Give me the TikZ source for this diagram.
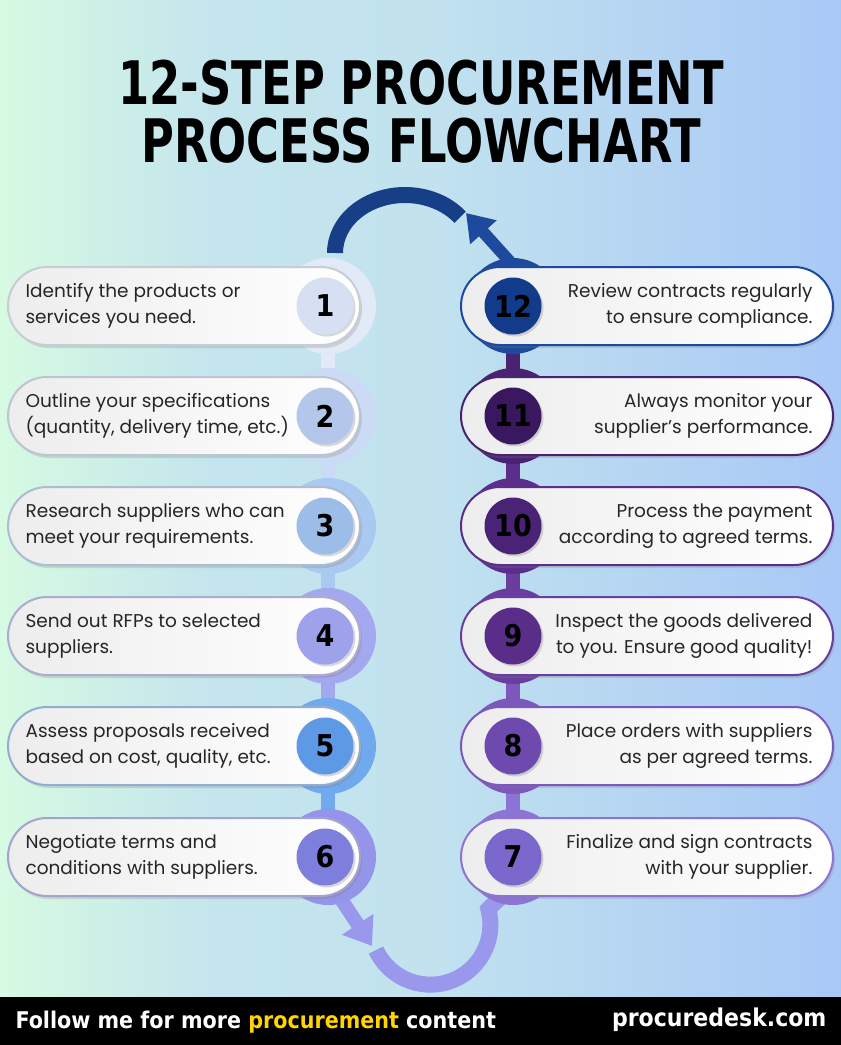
\documentclass[tikz,border=0pt]{standalone}
\usepackage{fontspec}
\setmainfont{Poppins}
\newfontfamily\numfont{DejaVu Sans Condensed}
\usetikzlibrary{arrows.meta,shadows}
\definecolor{bgL}{HTML}{D6FAE2}\definecolor{bgM}{HTML}{C2E3EE}\definecolor{bgR}{HTML}{A9C8F6}
\definecolor{lA}{HTML}{E2EAF8}\definecolor{lB}{HTML}{CCDBF5}\definecolor{lC}{HTML}{A9C9F0}
\definecolor{lD}{HTML}{A4A8EE}\definecolor{lE}{HTML}{71A9EE}\definecolor{lF}{HTML}{9494EA}
\definecolor{cA}{HTML}{D6E0F2}\definecolor{cB}{HTML}{B4C7EA}\definecolor{cC}{HTML}{9BBDE8}
\definecolor{cD}{HTML}{9EA2EA}\definecolor{cE}{HTML}{5E99E6}\definecolor{cF}{HTML}{7E7EDC}
\definecolor{rL}{HTML}{1E4A9E}\definecolor{rK}{HTML}{4A2272}\definecolor{rJ}{HTML}{5B2E8C}
\definecolor{rI}{HTML}{6A3E9E}\definecolor{rH}{HTML}{7C58BC}\definecolor{rG}{HTML}{8C74D4}
\definecolor{dL}{HTML}{133B8C}\definecolor{dK}{HTML}{3A1860}\definecolor{dJ}{HTML}{4A2276}
\definecolor{dI}{HTML}{5A2E88}\definecolor{dH}{HTML}{6E4AAE}\definecolor{dG}{HTML}{7B68CC}
\definecolor{arcT}{HTML}{173F88}\definecolor{arcB}{HTML}{9A98EC}\definecolor{yel}{HTML}{FFD400}
\tikzset{
 ring/.style={circle,minimum size=96pt,inner sep=0pt},
 pill/.style={rectangle,rounded corners=39pt,minimum height=78pt,line width=2pt,
   left color=gray!14,right color=white,drop shadow={shadow xshift=2pt,shadow yshift=-3pt,opacity=0.25}},
 num/.style={circle,minimum size=57pt,inner sep=0pt,font=\numfont\bfseries\fontsize{30}{30}\selectfont,
   drop shadow={shadow xshift=2pt,shadow yshift=-2pt,opacity=0.3}},
 ltext/.style={anchor=west,align=left,font=\fontsize{18.5}{26}\selectfont,text=black!85},
 rtext/.style={anchor=east,align=right,font=\fontsize{18.5}{26}\selectfont,text=black!85},
}
\newcommand\lstep[5]{%
 \node[ring,fill=#2] (r#4) at (328,#1) {};
 \node[pill,draw=#2!60!gray!80,minimum width=352pt] (p#4) at (184,#1) {};
 \node[num,fill=#3] (n#4) at (325,#1) {#4};
 \node[ltext] (t#4) at (22,#1) {#5};}
\newcommand\rstep[5]{%
 \node[ring,fill=#2] (r#4) at (513,#1) {};
 \node[pill,draw=#2,minimum width=372pt] (p#4) at (647,#1) {};
 \node[num,fill=#3,text=black] (n#4) at (513,#1) {#4};
 \node[rtext] (t#4) at (816,#1) {#5};}
\begin{document}
\begin{tikzpicture}[x=1pt,y=-1pt]
\useasboundingbox (0,0) rectangle (841,1045);
\fill[left color=bgL,right color=bgM,middle color=bgM!90!bgL] (0,0) rectangle (420,997);
\fill[left color=bgM,right color=bgR] (420,0) rectangle (841,997);
\node[font=\numfont\bfseries\fontsize{60}{60}\selectfont,align=center,xscale=0.83,text=black] (title) at (421,112) {12-STEP PROCUREMENT\\[-2pt]PROCESS FLOWCHART};
% top arc
\draw[arcT,line width=16pt] (335,253) arc[start angle=180,end angle=322,x radius=70,y radius=58];
\coordinate (tA) at (466,213);
\draw[rL,line width=12pt,-{Triangle[length=26pt,width=34pt]}] (512,264) -- (tA);
% bottom arc
\coordinate (bA) at (372,946);
\draw[arcB,line width=14pt,-{Triangle[length=26pt,width=36pt]}] (335,890) -- (bA);
\draw[arcB,line width=16pt] (376,950) arc[start angle=155,end angle=-15,radius=60] -- (508,890);
% spines
\foreach \a/\b/\c in {306/416/lA,416/526/lB,526/636/lC,636/746/lD,746/857/lE}
  \draw[\c,line width=14pt] (328,\a) -- (328,\b);
\foreach \a/\b/\c in {306/416/rK,416/526/rJ,526/636/rI,636/746/rH,746/857/rG}
  \draw[\c,line width=14pt] (513,\a) -- (513,\b);
\lstep{306}{lA}{cA}{1}{Identify the products or\\services you need.}
\lstep{416}{lB}{cB}{2}{Outline your specifications\\(quantity, delivery time, etc.)}
\lstep{526}{lC}{cC}{3}{Research suppliers who can\\meet your requirements.}
\lstep{636}{lD}{cD}{4}{Send out RFPs to selected\\suppliers.}
\lstep{746}{lE}{cE}{5}{Assess proposals received\\based on cost, quality, etc.}
\lstep{857}{lF}{cF}{6}{Negotiate terms and\\conditions with suppliers.}
\rstep{306}{rL}{dL}{12}{Review contracts regularly\\to ensure compliance.}
\rstep{416}{rK}{dK}{11}{Always monitor your\\supplier’s performance.}
\rstep{526}{rJ}{dJ}{10}{Process the payment\\according to agreed terms.}
\rstep{636}{rI}{dI}{9}{Inspect the goods delivered\\to you. Ensure good quality!}
\rstep{746}{rH}{dH}{8}{Place orders with suppliers\\as per agreed terms.}
\rstep{857}{rG}{dG}{7}{Finalize and sign contracts\\with your supplier.}
% footer
\fill[black] (0,997) rectangle (841,1045);
\node[anchor=west,text=white,font=\numfont\bfseries\fontsize{23}{24}\selectfont] (f1) at (12,1022) {Follow me for more \textcolor{yel}{procurement} content};
\node[anchor=east,text=white,font=\numfont\bfseries\fontsize{24.5}{25}\selectfont] (f2) at (830,1020) {procuredesk.com};
\end{tikzpicture}
\end{document}
